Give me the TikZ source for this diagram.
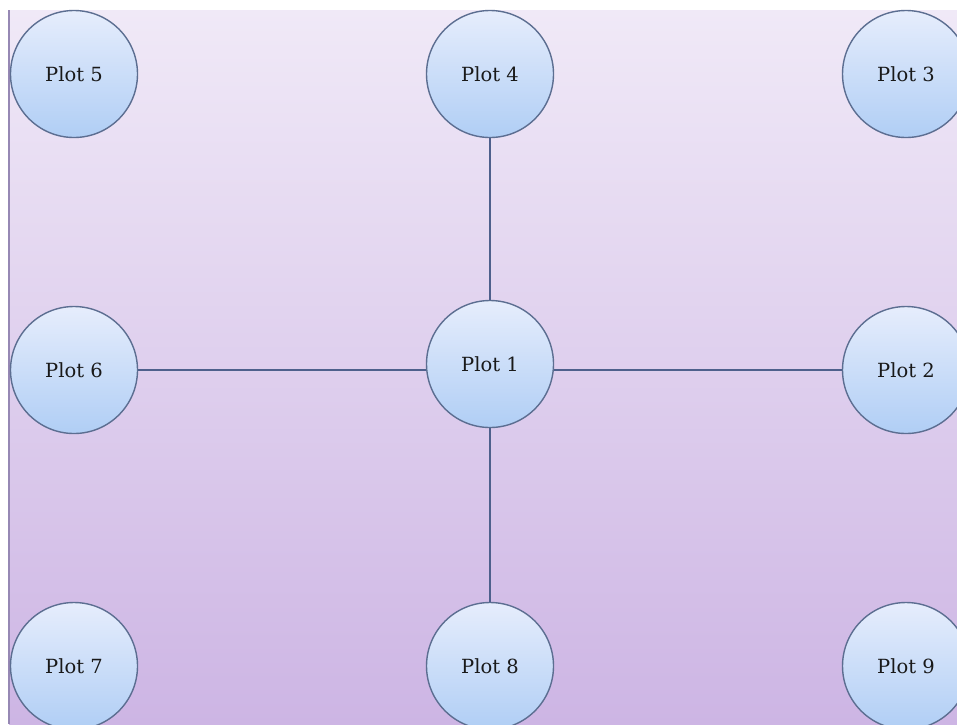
\documentclass[tikz,border=0pt]{standalone}
\usepackage{fontspec}
\setmainfont{DejaVu Serif}

\pgfdeclarelayer{canvas}
\pgfdeclarelayer{links}
\pgfsetlayers{canvas,links,main}

\definecolor{pageTop}{RGB}{240,233,247}
\definecolor{pageBottom}{RGB}{205,181,228}
\definecolor{edgeLine}{RGB}{150,136,180}
\definecolor{discTop}{RGB}{230,237,252}
\definecolor{discBottom}{RGB}{176,206,245}
\definecolor{discRim}{RGB}{92,110,145}
\definecolor{linkLine}{RGB}{78,96,140}

\tikzset{
  plot/.style={circle, draw=discRim, line width=1.4pt,
    top color=discTop, bottom color=discBottom,
    minimum size=127pt, inner sep=0pt,
    font=\fontsize{19.5}{23}\selectfont, text=black!90},
  link/.style={draw=linkLine, line width=1.2pt}
}

\begin{document}
\begin{tikzpicture}[x=1pt, y=-1pt]
  \useasboundingbox (0,0) rectangle (957,724);
  \clip (0,0) rectangle (957,724);

  % shaded canvas with its left rule
  \begin{pgfonlayer}{canvas}
    \fill[white] (0,0) rectangle (957,724);
    \shade[top color=pageTop, bottom color=pageBottom] (9,10) rectangle (957,724);
    \draw[edgeLine, line width=1.5pt] (9,10) -- (9,724);
  \end{pgfonlayer}

  % plots
  \node[plot] (P5) at (74,74)   {Plot 5};
  \node[plot] (P4) at (490,74)  {Plot 4};
  \node[plot] (P3) at (906,74)  {Plot 3};
  \node[plot] (P6) at (74,370)  {Plot 6};
  \node[plot] (P1) at (490,364) {Plot 1};
  \node[plot] (P2) at (906,370) {Plot 2};
  \node[plot] (P7) at (74,666)  {Plot 7};
  \node[plot] (P8) at (490,666) {Plot 8};
  \node[plot] (P9) at (906,666) {Plot 9};

  % links, kept behind the plots
  \begin{pgfonlayer}{links}
    \draw[link] (P6) -- (P2);
    \draw[link] (P4) -- (P8);
  \end{pgfonlayer}
\end{tikzpicture}
\end{document}
